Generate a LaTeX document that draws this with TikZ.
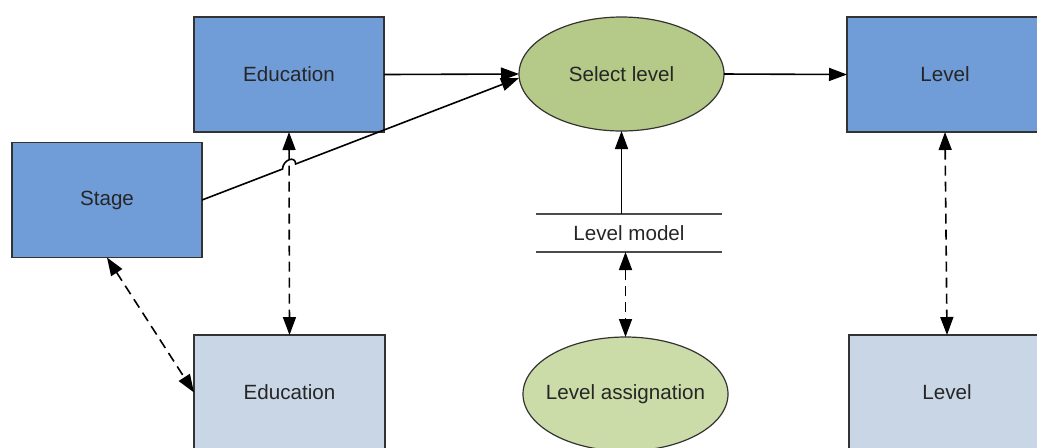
\documentclass[tikz,border=0pt]{standalone}
\usepackage{fontspec}
\setmainfont{Liberation Sans}
\usetikzlibrary{shapes.geometric,arrows.meta,calc}
\definecolor{boxblue}{HTML}{709DD8}
\definecolor{boxlight}{HTML}{C8D6E6}
\definecolor{ellgreen}{HTML}{B5CA88}
\definecolor{elllight}{HTML}{CCDCA8}
\definecolor{txtgray}{HTML}{262626}
\begin{document}
\begin{tikzpicture}[x=0.5pt,y=-0.5pt,
  every node/.style={font=\fontsize{10.3}{12}\selectfont, text=txtgray},
  box/.style={draw=black!80, line width=0.7pt, minimum width=95pt, minimum height=57.5pt, inner sep=0pt, outer sep=0pt},
  darkbox/.style={box, fill=boxblue},
  lightbox/.style={box, fill=boxlight},
  ell/.style={ellipse, draw=black!80, line width=0.6pt, minimum width=102.5pt, minimum height=57pt, inner xsep=-14pt, inner ysep=0pt, outer sep=0pt},
  conn/.style={line width=0.8pt, -{Triangle[length=9pt,width=6.5pt]}},
  dconn/.style={line width=0.8pt, dash pattern=on 5pt off 3pt, {Triangle[length=9pt,width=6.5pt]}-{Triangle[length=9pt,width=6.5pt]}}]
\useasboundingbox (0,0) rectangle (1037,447);
\clip (0,0) rectangle (1037,447);
\node[darkbox] (edu) at (289,74.5) {Education};
\node[darkbox] (stage) at (107,200) {Stage};
\node[ell, fill=ellgreen] (sel) at (621.5,74) {Select level};
\node[darkbox, minimum width=98pt] (lev) at (945,74.5) {Level};
\node[inner sep=0pt, outer sep=0pt, minimum width=93pt, minimum height=19pt] (lm) at (629,233) {Level model};
\draw[line width=0.7pt, draw=black!70] (lm.north west) -- (lm.north east);
\draw[line width=0.7pt, draw=black!70] (lm.south west) -- (lm.south east);
\node[lightbox, minimum width=95.5pt] (edub) at (289.5,392.5) {Education};
\node[ell, fill=elllight] (la) at (625.5,394) {Level assignation};
\node[lightbox, minimum width=98pt] (levb) at (947,392.5) {Level};
% connectors
\draw[conn] (edu.east) -- (sel.west);
\coordinate (selin) at ($(sel.west)+(0,4)$);
\coordinate (X) at (intersection of stage.east--selin and edu.south--edub.north);
\coordinate (P1) at ($(X)!3.5pt!(stage.east)$);
\coordinate (P2) at ($(X)!3.5pt!(selin)$);
\draw[conn] (stage.east) -- (P1) .. controls ($(P1)+(0,-9)$) and ($(P2)+(0,-9)$) .. (P2) -- (selin);
\draw[conn] (sel.east) -- (lev.west);
\draw[conn] (sel.south |- lm.north) -- (sel.south);
\draw[dconn] (edu.south) -- (edub.north);
\draw[dconn] (stage.south) -- (edub.west);
\draw[dconn] (la.north |- lm.south) -- (la.north);
\draw[dconn] (lev.south) -- (levb.north);
\end{tikzpicture}
\end{document}
